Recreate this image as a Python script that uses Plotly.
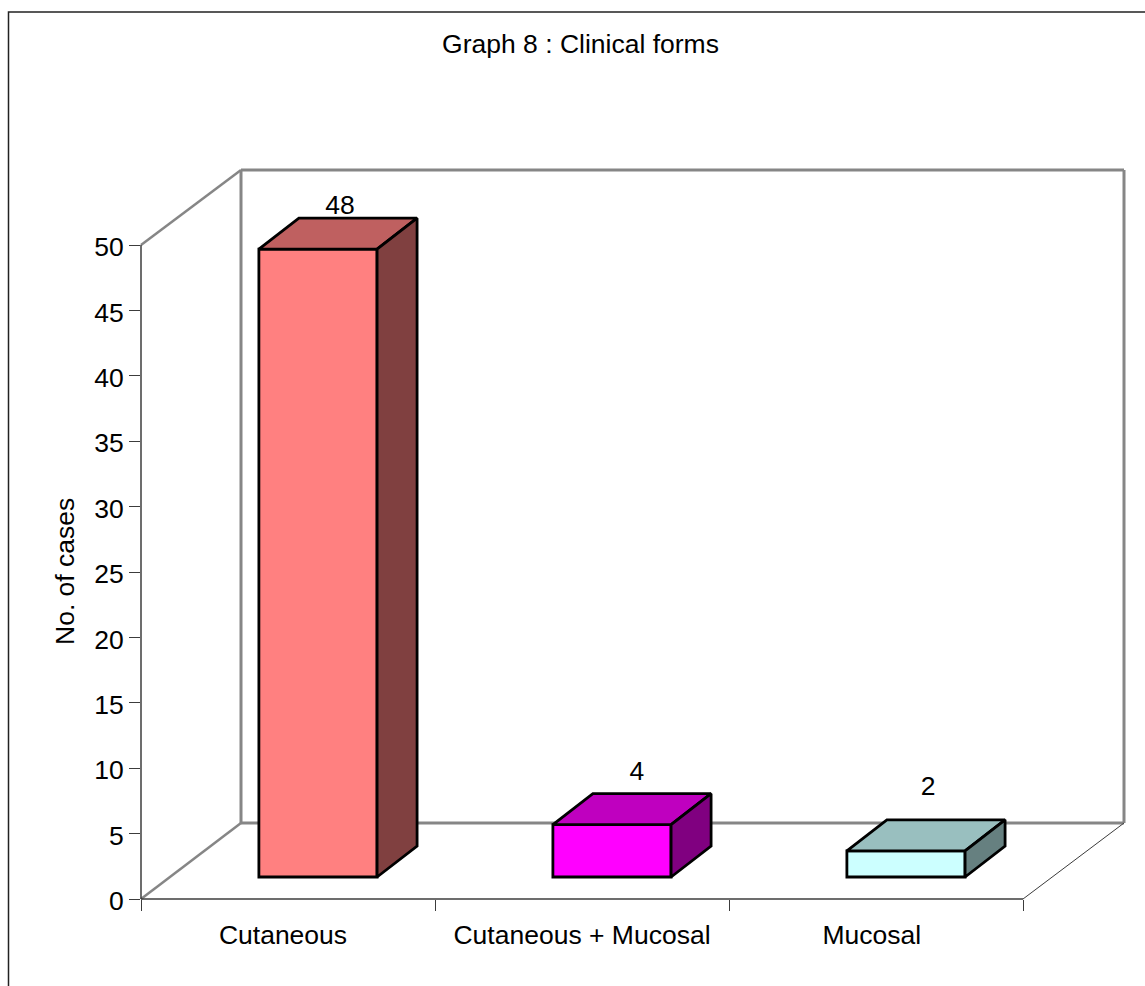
import plotly.graph_objects as go

categories = ["Cutaneous", "Cutaneous + Mucosal", "Mucosal"]
values = [48, 4, 2]
y_ticks = [0, 5, 10, 15, 20, 25, 30, 35, 40, 45, 50]
front_colors = ["#FF8080", "#FF00FF", "#CCFFFF"]
top_colors = ["#BF6060", "#BF00BF", "#99BFBF"]
side_colors = ["#804040", "#800080", "#668080"]
label_dx = [0.677, 0.687, 0.677]
label_lift = [4.91, 5.64, 6.49]
category_label_pos = [0.483, 1.5, 2.486]

FONT = "Liberation Sans, Arial, sans-serif"
FS = 26.5
W, H = 1145, 986
PL, PT, PR, PB = 141, 170, 1124, 899
x_unit = 294.0
y_unit = 13.08
depth_x = 100 / x_unit
depth_y = 76 / y_unit
ymax = (PB - PT) / y_unit
xmax = (PR - PL) / x_unit
bar_left, bar_w = 0.401, 0.402
bar_base = 22 / y_unit
bar_dx, bar_dy = 40 / x_unit, 31 / y_unit

GRAY = "#868686"
DARK = "#3c3c3c"
EDGE = 2.8

shapes = []


def seg(x0, y0, x1, y1, color, width):
    # paper reference so that lines on the plot edge are not clipped in half
    shapes.append(dict(type="line", xref="paper", yref="paper",
                       x0=x0 / xmax, y0=y0 / ymax, x1=x1 / xmax, y1=y1 / ymax,
                       layer="below", line=dict(color=color, width=width)))


# back wall and floor
seg(depth_x, depth_y, depth_x, ymax, GRAY, 3)
seg(depth_x, ymax, xmax, ymax, GRAY, 3)
seg(xmax, ymax, xmax, depth_y, GRAY, 3)
seg(depth_x, depth_y, xmax, depth_y, GRAY, 3)
seg(0, 50, depth_x, ymax, GRAY, 2.5)
seg(0, 0, depth_x, depth_y, GRAY, 2.5)
seg(3, 0, xmax, depth_y, DARK, 1)
# axes
seg(0, 0, 0, 50, DARK, 1.5)
seg(0, 0, 3, 0, DARK, 1.5)
# outer frame (left and top edges of the picture box)
px = lambda v: (v - PL) / (PR - PL)
py = lambda v: (PB - v) / (PB - PT)
shapes.append(dict(type="path", xref="paper", yref="paper",
                   path=f"M {px(8.5)} {py(990)} L {px(8.5)} {py(12)} L {px(1150)} {py(12)}",
                   line=dict(color="#222222", width=1.5)))

fig = go.Figure()

fig.add_trace(go.Bar(
    x=[i + bar_left + bar_w / 2 for i in range(3)],
    y=values,
    base=[bar_base] * 3,
    width=bar_w,
    marker=dict(color=front_colors, line=dict(color="black", width=EDGE)),
    showlegend=False, hoverinfo="skip",
))

for i, v in enumerate(values):
    x0 = i + bar_left
    x1 = x0 + bar_w
    top = bar_base + v
    fig.add_trace(go.Scatter(
        x=[x0, x0 + bar_dx, x1 + bar_dx, x1, x0],
        y=[top, top + bar_dy, top + bar_dy, top, top],
        mode="lines", fill="toself", fillcolor=top_colors[i],
        line=dict(color="black", width=EDGE), showlegend=False, hoverinfo="skip", cliponaxis=False,
    ))
    fig.add_trace(go.Scatter(
        x=[x1, x1 + bar_dx, x1 + bar_dx, x1, x1],
        y=[top, top + bar_dy, bar_base + bar_dy, bar_base, top],
        mode="lines", fill="toself", fillcolor=side_colors[i],
        line=dict(color="black", width=EDGE), showlegend=False, hoverinfo="skip", cliponaxis=False,
    ))

fig.add_trace(go.Scatter(
    x=[i + label_dx[i] for i in range(3)],
    y=[v + label_lift[i] for i, v in enumerate(values)],
    mode="text", text=[str(v) for v in values], textposition="middle center",
    textfont=dict(family=FONT, size=FS, color="black"),
    showlegend=False, hoverinfo="skip", cliponaxis=False,
))

fig.update_layout(
    width=W, height=H,
    margin=dict(l=PL, r=W - PR, t=PT, b=H - PB, autoexpand=False),
    paper_bgcolor="white", plot_bgcolor="white",
    font=dict(family=FONT, size=FS, color="black"),
    title=dict(text="Graph 8 : Clinical forms", x=580.5 / W, xref="container", xanchor="center",
               y=1 - 44 / H, yref="container", yanchor="middle",
               font=dict(family=FONT, size=FS, color="black")),
    showlegend=False,
    shapes=shapes,
    annotations=[dict(text="No. of cases", textangle=-90, xref="paper", yref="y",
                      x=px(65), y=25, xanchor="center", yanchor="middle", showarrow=False,
                      font=dict(family=FONT, size=FS, color="black"))],
    xaxis=dict(range=[0, xmax], showgrid=False, zeroline=False, showline=False,
               tickmode="array", tickvals=category_label_pos, ticktext=categories,
               ticks="outside", ticklen=12, tickcolor="rgba(0,0,0,0)", tickfont=dict(family=FONT, size=FS),
               minor=dict(tickmode="array", tickvals=[0, 1, 2, 3], ticks="outside", ticklen=11,
                          tickcolor=DARK, tickwidth=1, showgrid=False)),
    yaxis=dict(range=[0, ymax], showgrid=False, zeroline=False, showline=False,
               tickmode="array", tickvals=y_ticks, ticks="outside", ticklen=11, ticklabelshift=2,
               tickcolor=DARK, tickwidth=1, tickfont=dict(family=FONT, size=FS)),
)

fig.write_html("out.html", config=dict(displayModeBar=False),
               post_script="document.body.style.margin='0';document.documentElement.style.overflow='hidden';")
